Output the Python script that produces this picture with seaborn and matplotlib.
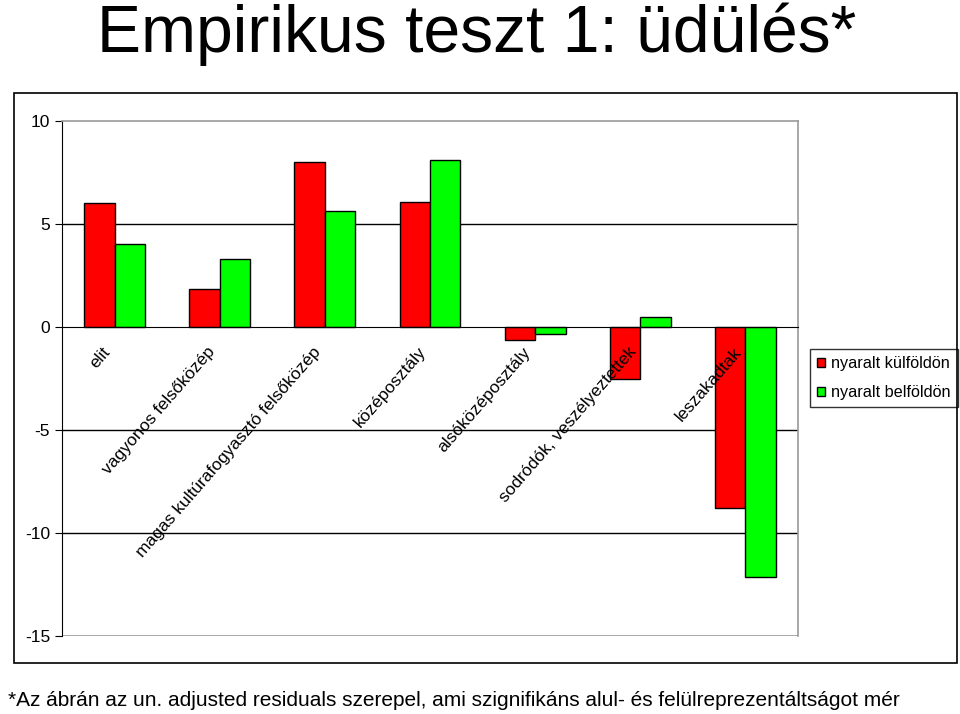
import pandas as pd
import numpy as np
import matplotlib
matplotlib.use("Agg")
import matplotlib.pyplot as plt
import matplotlib.transforms as mtransforms
import seaborn as sns
from matplotlib.patches import Rectangle

categories = ["elit", "vagyonos felsőközép", "magas kultúrafogyasztó felsőközép",
              "középosztály", "alsóközéposztály", "sodródók, veszélyeztettek",
              "leszakadtak"]
kulfoldon = [6.0, 1.85, 8.0, 6.05, -0.63, -2.5, -8.8]
belfoldon = [4.05, 3.3, 5.65, 8.1, -0.35, 0.5, -12.15]
series_names = ["nyaralt külföldön", "nyaralt belföldön"]
yticks = [10, 5, 0, -5, -10, -15]

df = pd.DataFrame({
    "kategoria": categories * 2,
    "ertek": kulfoldon + belfoldon,
    "csoport": [series_names[0]] * 7 + [series_names[1]] * 7,
})

sns.set_style("white")
plt.rcParams["font.family"] = ["Liberation Sans", "DejaVu Sans"]
plt.rcParams["text.color"] = "black"
plt.rcParams["xtick.color"] = "black"
plt.rcParams["ytick.color"] = "black"

fig = plt.figure(figsize=(9.6, 7.14), dpi=100)
ax = fig.add_axes([62 / 960, (714 - 636) / 714, (798 - 62) / 960, (636 - 121) / 714])

sns.barplot(data=df, x="kategoria", y="ertek", hue="csoport", ax=ax,
            palette=["#ff0000", "#00ff00"], saturation=1, width=0.58,
            edgecolor="black", linewidth=1.0, legend=True)

ax.set_ylim(-15, 10)
ax.set_xlim(-0.5, 6.5)
ax.set_yticks(yticks)
ax.set_yticklabels([str(v) for v in yticks], fontsize=12.5)
for v in [5, -5, -10]:
    ax.axhline(v, color="black", lw=1.0, zorder=0)

for s in ["top", "right"]:
    ax.spines[s].set_color("#999999")
    ax.spines[s].set_linewidth(1.2)
ax.spines["left"].set_color("black")
ax.spines["bottom"].set_position(("data", 0))
ax.spines["bottom"].set_color("black")
ax.axhline(-15, color="#999999", lw=1.2, zorder=0)

ax.set_xticks(range(7))
ax.set_xticklabels(categories, rotation=49, ha="right", va="center",
                   rotation_mode="anchor", fontsize=12.5)
ax.tick_params(axis="x", which="major", length=0, pad=16)
shift = mtransforms.ScaledTranslation(-7 / 100, 0, fig.dpi_scale_trans)
for lbl in ax.get_xticklabels():
    lbl.set_transform(lbl.get_transform() + shift)
ax.set_xticks(np.arange(-0.5, 7, 1), minor=True)
ax.tick_params(axis="x", which="minor", length=5, direction="out", color="black")
ax.tick_params(axis="y", length=5, direction="out", color="black", left=True)
ax.xaxis.set_zorder(5)
ax.set_xlabel("")
ax.set_ylabel("")

leg = ax.legend(loc="upper left", bbox_to_anchor=(810 / 960, (714 - 349) / 714),
                bbox_transform=fig.transFigure, frameon=True, fancybox=False,
                fontsize=11.7, handlelength=0.5, handleheight=0.5, handletextpad=0.37,
                borderpad=0.45, labelspacing=0.85, title=None, borderaxespad=0)
leg.get_frame().set_edgecolor("black")
leg.get_frame().set_linewidth(1.0)

fig.patches.append(Rectangle((14 / 960, (714 - 663) / 714), (957 - 14) / 960,
                             (663 - 93) / 714, transform=fig.transFigure,
                             fill=False, edgecolor="black", lw=1.2))

fig.text(477 / 960, 1 - 52 / 714, "Empirikus teszt 1: üdülés*", ha="center", va="baseline",
         fontsize=47.5)
fig.text(8 / 960, 1 - 700 / 714, "*Az ábrán az un. adjusted residuals szerepel, ami szignifikáns alul- és felülreprezentáltságot mér",
         ha="left", va="center", fontsize=15)

fig.savefig("out.png", dpi=100)
